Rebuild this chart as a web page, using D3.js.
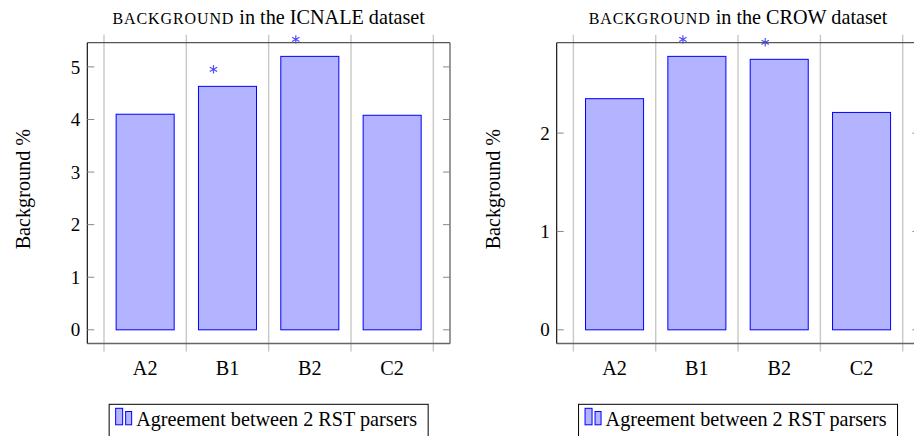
<!DOCTYPE html>
<html>
<head>
<meta charset="utf-8">
<script src="https://cdn.jsdelivr.net/npm/d3@7"></script>
<style>
  html, body { margin: 0; padding: 0; background: #fff; }
  svg text { font-family: "Liberation Serif", "Times New Roman", serif; fill: #000; }
</style>
</head>
<body>
<svg id="chart" width="914" height="436"></svg>
<script>
// ---- data ----
const categories = ["A2", "B1", "B2", "C2"];
const icnaleValues = [4.10, 4.63, 5.20, 4.08];
const crowValues = [2.35, 2.78, 2.75, 2.21];
const icnaleStars = [false, true, true, false];
const crowStars = [false, true, true, false];
const icnaleTicks = [0, 1, 2, 3, 4, 5];
const crowTicks = [0, 1, 2];
const seriesName = "Agreement between 2 RST parsers";
const yLabel = "Background %";

const svg = d3.select("#chart");

const panels = [
  { dataset: "ICNALE", values: icnaleValues, stars: icnaleStars, ticks: icnaleTicks, left: 87.3, right: 450 },
  { dataset: "CROW", values: crowValues, stars: crowStars, ticks: crowTicks, left: 556.7, right: 919.4 }
];

const plotTop = 42.7, plotBottom = 343.5;
const fill = "#b3b3ff", stroke = "#0000ff", starColor = "#4d4dff";
const fs = "20.2px";

panels.forEach(p => {
  const g = svg.append("g");
  const maxV = d3.max(p.values);
  const pad = maxV * 0.05;
  const y = d3.scaleLinear().domain([-pad, maxV + pad]).range([plotBottom, plotTop]);
  const inset = (p.right - p.left) * 0.046;
  const x = d3.scaleBand().domain(categories).range([p.left + inset, p.right - inset]).padding(0);
  const bw = x.bandwidth();
  const barW = bw * 0.705;

  // vertical grid lines at category boundaries
  const bounds = categories.map(c => x(c)).concat([x(categories[categories.length - 1]) + bw]);
  g.selectAll("line.grid").data(bounds).enter().append("line")
    .attr("x1", d => d).attr("x2", d => d)
    .attr("y1", plotTop - 8).attr("y2", plotBottom + 8)
    .attr("stroke", "#c8c8c8").attr("stroke-width", 1.4);

  // bars
  g.selectAll("rect.bar").data(p.values).enter().append("rect")
    .attr("x", (d, i) => x(categories[i]) + (bw - barW) / 2)
    .attr("width", barW)
    .attr("y", d => y(d))
    .attr("height", d => y(0) - y(d))
    .attr("fill", fill).attr("stroke", stroke).attr("stroke-width", 1);

  // stars
  const starSym = d3.symbol().type(d3.symbolAsterisk).size(50);
  p.values.forEach((v, i) => {
    if (!p.stars[i]) return;
    g.append("path")
      .attr("d", starSym())
      .attr("transform", `translate(${x(categories[i]) + bw / 2 - 14},${y(v) - 17})`)
      .attr("fill", "none").attr("stroke", starColor).attr("stroke-width", 1.2);
  });

  // box
  g.append("line").attr("x1", p.left).attr("x2", p.right).attr("y1", plotTop).attr("y2", plotTop)
    .attr("stroke", "#555").attr("stroke-width", 1.2);
  g.append("line").attr("x1", p.left).attr("x2", p.right).attr("y1", plotBottom).attr("y2", plotBottom)
    .attr("stroke", "#666").attr("stroke-width", 1.4);
  g.append("line").attr("x1", p.right).attr("x2", p.right).attr("y1", plotTop).attr("y2", plotBottom)
    .attr("stroke", "#555").attr("stroke-width", 1.2);
  g.append("line").attr("x1", p.left).attr("x2", p.left).attr("y1", plotTop).attr("y2", plotBottom)
    .attr("stroke", "#000").attr("stroke-width", 1.1);

  // y ticks (inside, mirrored)
  p.ticks.forEach(t => {
    const yy = y(t);
    g.append("line").attr("x1", p.left).attr("x2", p.left + 7).attr("y1", yy).attr("y2", yy)
      .attr("stroke", "#888").attr("stroke-width", 1);
    g.append("line").attr("x1", p.right - 7).attr("x2", p.right).attr("y1", yy).attr("y2", yy)
      .attr("stroke", "#888").attr("stroke-width", 1);
    g.append("text").attr("x", p.left - 7).attr("y", yy).attr("dy", "0.35em")
      .attr("text-anchor", "end").style("font-size", "19px").text(t);
  });

  // x labels
  categories.forEach(c => {
    g.append("text").attr("x", x(c) + bw / 2).attr("y", 374.5)
      .attr("text-anchor", "middle").style("font-size", fs).text(c);
  });

  // y label
  g.append("text")
    .attr("transform", `translate(${p.left - 64},${(plotTop + plotBottom) / 2 - 4}) rotate(-90)`)
    .attr("text-anchor", "middle").attr("dy", "0.35em").style("font-size", fs).text(yLabel);

  // title
  const cx = (p.left + p.right) / 2;
  const title = g.append("text").attr("x", cx).attr("y", 24.3).attr("text-anchor", "middle")
    .style("font-size", fs);
  title.append("tspan").style("font-size", "16px").style("letter-spacing", "0.9px").text("BACKGROUND");
  title.append("tspan").text(` in the ${p.dataset} dataset`);

  // legend
  const lw = 319;
  const lx = cx - lw / 2;
  g.append("rect").attr("x", lx).attr("y", 404.3).attr("width", lw).attr("height", 40)
    .attr("fill", "#fff").attr("stroke", "#000").attr("stroke-width", 1);
  g.append("rect").attr("x", lx + 6.5).attr("y", 408.3).attr("width", 7).attr("height", 16.5)
    .attr("fill", fill).attr("stroke", stroke).attr("stroke-width", 1);
  g.append("rect").attr("x", lx + 16.5).attr("y", 411.5).attr("width", 6).attr("height", 13.3)
    .attr("fill", fill).attr("stroke", stroke).attr("stroke-width", 1);
  g.append("text").attr("x", lx + 27).attr("y", 426).style("font-size", fs).text(seriesName);
});
</script>
</body>
</html>
